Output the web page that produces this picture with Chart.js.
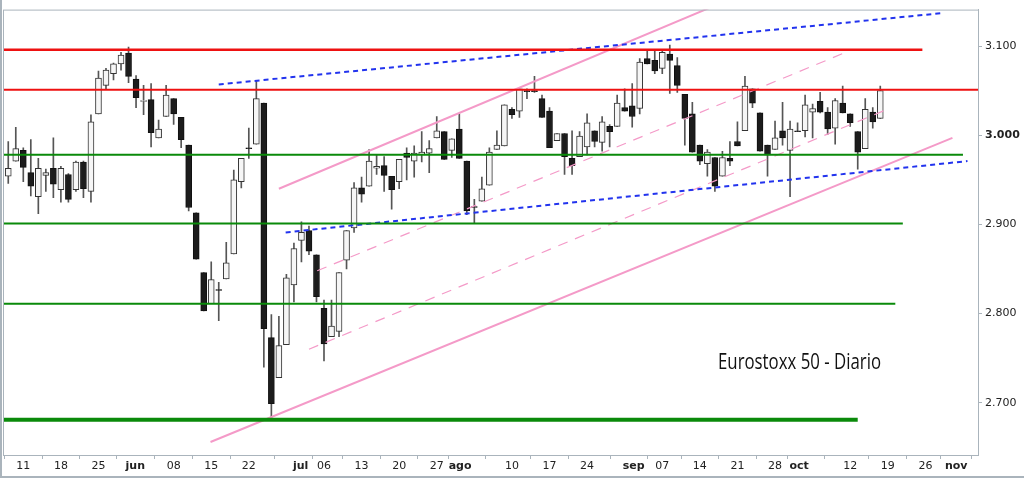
<!DOCTYPE html>
<html><head><meta charset="utf-8">
<script src="https://cdn.jsdelivr.net/npm/chart.js@4/dist/chart.umd.min.js"></script>
<style>html,body{margin:0;padding:0;background:#fff}#w{width:1024px;height:478px}</style>
</head><body><div id="w"><canvas id="c"></canvas></div>
<script>
const firstIndex = -2; // trading-day index of the first candle (0 = 11 May)
const opens  = [2954,2971,2983,2958,2931,2955,2963,2939,2956,2939,2970,2937,3024,3056,3069,3080,3092,3063,3038,3040,2997,3021,3041,3020,2989,2913,2846,2811,2827,2839,2867,2948,2986,2990,3036,2773,2728,2765,2832,2882,2893,2866,2806,2774,2780,2860,2896,2941,2943,2963,2966,2954,2948,2980,2971,2978,2980,2997,3004,2983,3007,2971,2920,2926,2944,2984,2988,3029,3027,3050,3050,3041,3027,2994,3002,2974,2976,2987,3005,2992,3010,3010,3031,3033,3030,3086,3084,3075,3091,3078,3046,3024,2989,2968,2975,2954,2974,2993,3005,3052,3025,2989,2984,3005,2983,3005,3005,3026,3038,3026,3008,3036,3024,3004,2985,3026,3019];
const highs  = [2993,3009,2986,2995,2974,2962,2997,2965,2957,2971,2971,3023,3072,3075,3081,3093,3099,3067,3056,3058,3017,3056,3041,3020,2989,2913,2846,2858,2835,2880,2961,2974,3008,3061,3036,2799,2797,2844,2879,2903,2898,2866,2815,2815,2846,2893,2947,2953,2984,2978,2976,2954,2973,2986,2988,3004,2994,3021,3004,2996,3024,2971,2928,2953,2986,3005,3034,3031,3052,3052,3066,3045,3031,3002,3002,3005,3004,3024,3005,3021,3012,3045,3052,3058,3086,3094,3094,3094,3101,3087,3046,3037,2989,2984,2975,2982,2993,3015,3066,3052,3025,2989,3016,3037,3016,3014,3045,3035,3048,3031,3041,3055,3024,3004,3041,3031,3055];
const lows   = [2946,2971,2948,2932,2912,2937,2930,2925,2925,2937,2930,2925,3024,3052,3062,3073,3059,3031,3023,2987,2997,3021,3012,2986,2915,2861,2803,2811,2792,2839,2867,2941,2974,2990,2740,2681,2728,2765,2813,2858,2866,2813,2747,2774,2774,2850,2891,2925,2943,2956,2937,2917,2940,2950,2953,2970,2958,2997,2973,2975,2974,2911,2902,2926,2944,2984,2988,3019,3020,3041,3048,3020,2986,2994,2956,2956,2976,2978,2987,2982,2987,3010,3027,3009,3024,3080,3069,3069,3047,3048,2989,2981,2967,2954,2937,2954,2966,2988,3005,3031,2982,2954,2984,2989,2931,3004,2998,2997,3025,3001,2990,3025,3010,2962,2985,3008,3019];
const closes = [2963,2985,2964,2943,2963,2958,2945,2963,2928,2970,2940,3015,3064,3073,3080,3090,3066,3042,3039,3003,3007,3045,3024,2995,2919,2861,2803,2838,2826,2857,2950,2974,2985,3041,2783,2699,2764,2840,2873,2891,2870,2819,2766,2786,2846,2893,2941,2934,2971,2965,2955,2939,2973,2975,2980,2981,2985,3005,2973,2996,2974,2915,2919,2940,2981,2989,3034,3023,3052,3049,3049,3020,2986,3002,2976,2966,2999,3014,2993,3015,3004,3036,3027,3021,3082,3080,3072,3093,3084,3056,3019,2981,2971,2981,2943,2975,2971,2988,3055,3036,2982,2978,2997,2997,3007,3004,3034,3030,3026,3007,3039,3025,3014,2981,3029,3015,3050];

const yTicks = [2700,2800,2900,3000,3100];
const xTickPos    = [0,5,10,14.9,20,25,30,36.9,40,45,50,55,58.1,65,70,75,81.2,85,90,95,100,103.2,110,115,120,124.1];
const xTickLabels = ['11','18','25','jun','08','15','22','jul','06','13','20','27','ago','10','17','24','sep','07','14','21','28','oct','12','19','26','nov'];
const monthLabels = ['jun','jul','ago','sep','oct','nov'];

// support / resistance levels: [value, fromIndex, toIndex]
const redLevels   = [[3096,-2.7,119.6],[3051,-2.7,127]];
const greenLevels = [[2978,-2.7,125],[2901,-2.7,117],[2811,-2.7,116]];
const thickGreen  = [2681,-2.7,111];
// trend lines: [[x1,y1],[x2,y2]]
const blueUpper  = [[26,3057],[122.3,3137]];
const blueLower  = [[34.9,2891],[125.6,2971]];
const pinkUpper  = [[34,2940],[91.6,3144]];
const pinkLower  = [[24.9,2656],[123.6,2997]];
const pinkDash1  = [[39.1,2848],[109.7,3094]];
const pinkDash2  = [[38,2760],[115.2,3030]];

const xs = opens.map((_,k)=>firstIndex+k);
const up = opens.map((o,k)=>closes[k]>=o);
const bodies = xs.map((x,k)=>({x, y:[opens[k], closes[k]===opens[k]?closes[k]+0.8:closes[k]]}));
const wicks  = xs.map((x,k)=>({x, y:[lows[k], highs[k]]}));

function seg(pts,color,width,dash,order){
  return {type:'line', data:pts.map(p=>({x:p[0],y:p[1]})), borderColor:color, borderWidth:width,
    borderDash:dash||[], pointRadius:0, fill:false, order:order, tension:0};
}
const levelSets = [
  seg([[redLevels[0][1],redLevels[0][0]],[redLevels[0][2],redLevels[0][0]]],'#ee1111',2.5,null,0),
  seg([[redLevels[1][1],redLevels[1][0]],[redLevels[1][2],redLevels[1][0]]],'#ee1111',2,null,0),
  ...greenLevels.map(l=>seg([[l[1],l[0]],[l[2],l[0]]],'#0a8a0a',2,null,0)),
  seg([[thickGreen[1],thickGreen[0]],[thickGreen[2],thickGreen[0]]],'#0a8a0a',4,null,0),
  seg(blueUpper,'#2233ee',2,[5,4],0),
  seg(blueLower,'#2233ee',2,[5,4],0),
  seg(pinkUpper,'#f49ac8',2,null,0),
  seg(pinkLower,'#f49ac8',2,null,0),
  seg(pinkDash1,'#f49ac8',1.2,[10,8],0),
  seg(pinkDash2,'#f49ac8',1.2,[10,8],0),
];

const frame = {id:'frame', afterDraw(ch){
  const c=ch.ctx, a=ch.chartArea;
  c.save();
  c.strokeStyle='#aab4bc'; c.lineWidth=1;
  c.strokeRect(a.left+0.5,a.top+0.5,a.right-a.left,a.bottom-a.top);
  c.fillStyle='#aab4bc'; c.fillRect(0,0,2,478); c.fillRect(0,476,1024,2);
  c.fillStyle='#111'; c.font='21px "Open Sans"'; c.textBaseline='alphabetic';
  c.translate(718,369); c.scale(0.8,1);
  c.fillText('Eurostoxx 50 - Diario',0,0);
  c.restore();
}};

new Chart(document.getElementById('c'),{
  type:'bar',
  data:{datasets:[
    {label:'wick', data:wicks, backgroundColor:'#555', barThickness:1, grouped:false, order:2},
    {label:'body', data:bodies, backgroundColor:up.map(u=>u?'#f6f6f6':'#1c1c1c'),
      borderColor:up.map(u=>u?'#333':'#111'), borderWidth:1, borderSkipped:false, barThickness:6, grouped:false, order:1},
    ...levelSets
  ]},
  options:{
    responsive:true, maintainAspectRatio:false, animation:false,
    layout:{padding:{left:3,top:3,right:0,bottom:0}},
    plugins:{legend:{display:false},tooltip:{enabled:false}},
    scales:{
      x:{type:'linear', min:-2.7, max:127, offset:false,
        afterFit(s){s.height=23;},
        afterBuildTicks(s){s.ticks=xTickPos.map(v=>({value:v}));},
        grid:{drawOnChartArea:false, tickLength:4, color:'#aab4bc'},
        border:{color:'#aab4bc'},
        ticks:{autoSkip:false, maxRotation:0, padding:1, color:'#222',
          callback:(v,i)=>xTickLabels[i],
          font:(ctx)=>({family:'"DejaVu Sans"', size:11, weight: monthLabels.includes(xTickLabels[ctx.index])?'bold':'normal'})}},
      y:{type:'linear', position:'right', min:2641.4, max:3140.9,
        afterFit(s){s.width=46;},
        afterBuildTicks(s){s.ticks=yTicks.map(v=>({value:v}));},
        grid:{drawOnChartArea:false, tickLength:4, color:'#aab4bc'},
        border:{color:'#aab4bc'},
        ticks:{padding:3, color:'#222',
          callback:v=>(v/1000).toFixed(3),
          font:(ctx)=>({family:'"DejaVu Sans"', size:11, weight: ctx.tick&&ctx.tick.value===3000?'bold':'normal'})}}
    }
  },
  plugins:[frame]
});
</script></body></html>
